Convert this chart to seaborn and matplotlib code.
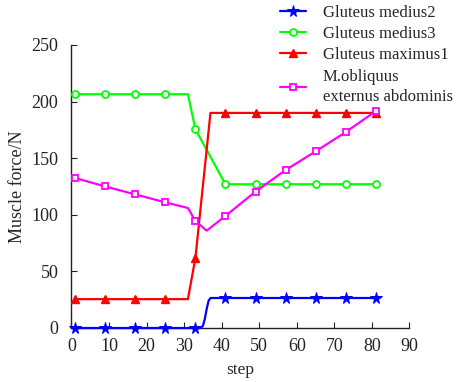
import matplotlib
matplotlib.use("Agg")
import matplotlib.pyplot as plt
import seaborn as sns

# ---- data ----
blue_x = [1, 9, 17, 25, 33, 34.5, 35, 35.5, 36, 36.5, 37, 41, 49, 57, 65, 73, 81]
blue_y = [0, 0, 0, 0, 0, 0, 2, 8, 17, 24, 26.5, 26.5, 26.5, 26.5, 26.5, 26.5, 26.5]
green_x = [1, 9, 17, 25, 31, 33, 41, 49, 57, 65, 73, 81]
green_y = [206.5, 206.5, 206.5, 206.5, 206.5, 175.5, 127, 127, 127, 127, 127, 127]
red_x = [1, 9, 17, 25, 31, 33, 37, 41, 49, 57, 65, 73, 81]
red_y = [25.5, 25.5, 25.5, 25.5, 25.5, 62, 190, 190, 190, 190, 190, 190, 190]
mag_x = [1, 9, 17, 25, 31, 33, 36, 41, 49, 57, 65, 73, 81]
mag_y = [132.5, 125, 118, 111, 106, 94.5, 86, 99, 120.5, 139.5, 156, 173, 191.5]
marker_steps = [1, 9, 17, 25, 33, 41, 49, 57, 65, 73, 81]
labels = ["Gluteus medius2", "Gluteus medius3", "Gluteus maximus1",
          "M.obliquus\nexternus abdominis"]
xticks = [0, 10, 20, 30, 40, 50, 60, 70, 80, 90]
yticks = [0, 50, 100, 150, 200, 250]

sns.set_style("ticks")
plt.rcParams['font.family'] = ['Liberation Serif', 'DejaVu Serif']
FS = 13

fig = plt.figure(figsize=(4.6, 3.82), dpi=100)
ax = fig.add_axes([71.5 / 460, 1 - 328 / 382, 338 / 460, 283 / 382])

series = [
    (blue_x, blue_y, "#0000ff", "*", dict(ms=8.5, mfc="#0000ff")),
    (green_x, green_y, "#00ff00", "o", dict(ms=5, mfc="white", mew=1.3)),
    (red_x, red_y, "#ff0000", "^", dict(ms=6, mfc="#ff0000", mew=1.0)),
    (mag_x, mag_y, "#ff00ff", "s", dict(ms=4.5, mfc="white", mew=1.3)),
]
for (xs, ys, c, m, kw), lab in zip(series, labels):
    idx = [i for i, v in enumerate(xs) if v in marker_steps]
    sns.lineplot(x=xs, y=ys, ax=ax, color=c, marker=m, markevery=idx,
                 mec=c, lw=1.6, label=lab, sort=False, clip_on=False,
                 zorder=3, **kw)

ax.set_xlim(0, 90)
ax.set_ylim(0, 250)
ax.set_xticks(xticks)
ax.set_yticks(yticks)
ax.tick_params(direction="in", length=4, width=0.8, labelsize=FS, colors="#222222")
ax.tick_params(axis="x", pad=7)
ax.tick_params(axis="y", pad=9.5)
for s in ["top", "right"]:
    ax.spines[s].set_visible(False)
for s in ["left", "bottom"]:
    ax.spines[s].set_color("#222222")
    ax.spines[s].set_linewidth(1.0)
ax.set_xlabel("step", fontsize=FS - 0.5, labelpad=5)
ax.set_ylabel("Muscle force/N", fontsize=FS, labelpad=4)

leg = ax.legend(loc="upper left", bbox_to_anchor=(278 / 460, 1 - 3 / 382),
                bbox_transform=fig.transFigure,
                frameon=False, fontsize=12, handlelength=1.6, handletextpad=1.0,
                labelspacing=0.32, borderaxespad=0, borderpad=0.1)
for t in leg.get_texts():
    t.set_linespacing(1.4)

fig.savefig("out.png", dpi=100)
